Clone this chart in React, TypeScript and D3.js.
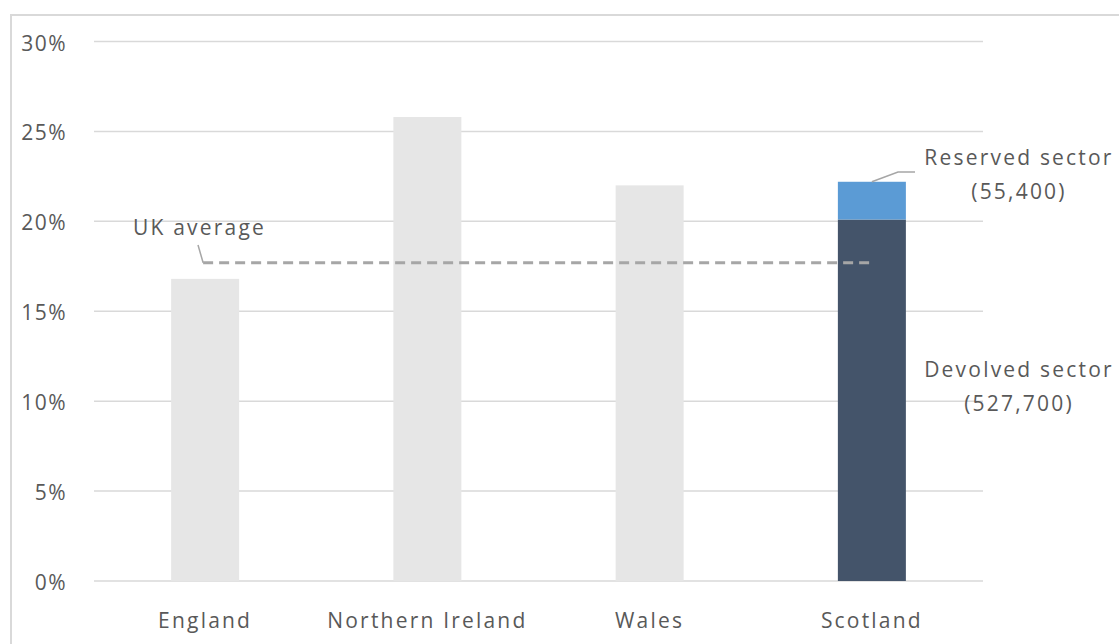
import React from "react";
import * as d3 from "d3";

const categories = ["England", "Northern Ireland", "Wales", "Scotland"];
const totalValues = [16.8, 25.8, 22.0, 22.2];
const devolvedScotland = 20.1;
const reservedScotland = 2.1;
const ukAverage = 17.7;
const yTicks = [0, 5, 10, 15, 20, 25, 30];
const tickLabels = ["0%", "5%", "10%", "15%", "20%", "25%", "30%"];

const W = 1119;
const H = 644;
const FONT = "'Open Sans', 'DejaVu Sans', sans-serif";
const TEXT = "#595959";

export default function App() {
  const y = d3.scaleLinear().domain([0, 30]).range([581, 41.5]);
  const x = d3
    .scaleBand<string>()
    .domain(categories)
    .range([94, 983])
    .paddingInner(0.694)
    .paddingOuter(0.347);
  const bw = x.bandwidth();
  const cx = (c: string) => (x(c) as number) + bw / 2;

  const scot = "Scotland";
  const sx = x(scot) as number;
  const yDev = y(devolvedScotland);
  const yTot = y(devolvedScotland + reservedScotland);

  const avgY = y(ukAverage);
  const avgX0 = cx("England") - 2;
  const avgX1 = cx("Scotland");

  const textStyle: React.CSSProperties = {
    fontFamily: FONT,
    fontSize: 21,
    letterSpacing: "2.2px",
    fill: TEXT,
  };

  return (
    <svg
      width={W}
      height={H}
      style={{ position: "absolute", left: 0, top: 0, background: "#fff" }}
    >
      <rect x={0} y={0} width={W} height={H} fill="#fff" />
      <path
        d={`M11,${H + 5} L11,15 L${W + 5},15`}
        fill="none"
        stroke="#d9d9d9"
        strokeWidth={2}
      />
      {yTicks.map((t, i) => (
        <g key={t}>
          <line
            x1={94}
            x2={983}
            y1={y(t)}
            y2={y(t)}
            stroke="#d9d9d9"
            strokeWidth={1.5}
          />
          <text
            x={67}
            y={y(t) + 9}
            textAnchor="end"
            style={{ ...textStyle, letterSpacing: "1.5px" }}
          >
            {tickLabels[i]}
          </text>
        </g>
      ))}
      {categories.map((c, i) =>
        c === scot ? null : (
          <rect
            key={c}
            x={x(c)}
            y={y(totalValues[i])}
            width={bw}
            height={y(0) - y(totalValues[i])}
            fill="#e6e6e6"
          />
        )
      )}
      <rect x={sx} y={yDev} width={bw} height={y(0) - yDev} fill="#44546a" />
      <rect x={sx} y={yTot} width={bw} height={yDev - yTot} fill="#5b9bd5" />

      {/* UK average line */}
      <line
        x1={avgX0}
        x2={avgX1}
        y1={avgY}
        y2={avgY}
        stroke="#a6a6a6"
        strokeWidth={3}
        strokeDasharray="10,6"
      />
      <path
        d={`M198,245 L${avgX0},${avgY}`}
        fill="none"
        stroke="#a6a6a6"
        strokeWidth={1.5}
      />
      <text x={133} y={235} style={textStyle}>
        UK average
      </text>

      {/* Reserved leader */}
      <path
        d={`M${cx(scot)},${yTot} L898,172 L915,172`}
        fill="none"
        stroke="#a6a6a6"
        strokeWidth={1.5}
      />
      <text x={1019} y={165} textAnchor="middle" style={textStyle}>
        Reserved sector
      </text>
      <text x={1019} y={199} textAnchor="middle" style={textStyle}>
        (55,400)
      </text>
      <text x={1019} y={377} textAnchor="middle" style={textStyle}>
        Devolved sector
      </text>
      <text x={1019} y={411} textAnchor="middle" style={textStyle}>
        (527,700)
      </text>

      {categories.map((c) => (
        <text key={c} x={cx(c)} y={628} textAnchor="middle" style={textStyle}>
          {c}
        </text>
      ))}
    </svg>
  );
}
